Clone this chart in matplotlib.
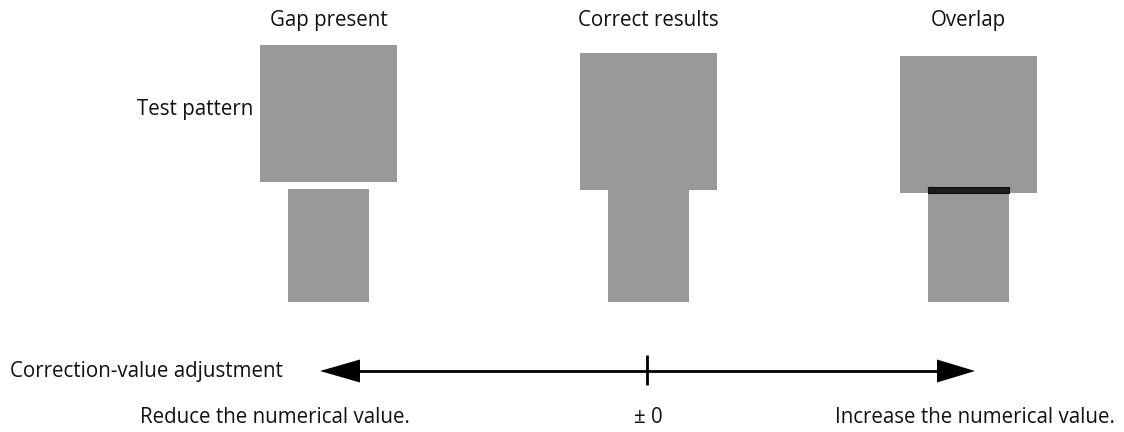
import matplotlib
matplotlib.use("Agg")
import matplotlib.pyplot as plt
from matplotlib.patches import Rectangle, Polygon

plt.rcParams['font.family'] = ['Open Sans', 'DejaVu Sans']

# ---- data (pixel-space layout of the schematic) ----
panel_titles = ["Gap present", "Correct results", "Overlap"]
panel_left = [260, 580, 900]          # left edge of upper block
upper_top = [45, 53, 56]
upper_bottom = [182, 190, 193]
lower_top = [189, 190, 187]
lower_bottom = [302, 302, 302]
upper_width = 137
lower_offset = 28
lower_width = 81

row_label = "Test pattern"
axis_label = "Correction-value adjustment"
axis_ticks = ["Reduce the numerical value.", "\u00b1 0", "Increase the numerical value."]
axis_tick_x = [275, 648, 975]

GRAY = "#999999"
FS = 14.8

fig = plt.figure(figsize=(11.24, 4.32), dpi=100)
ax = fig.add_axes([0, 0, 1, 1])
ax.set_xlim(0, 1124)
ax.set_ylim(432, 0)
ax.axis("off")

for i, title in enumerate(panel_titles):
    x0 = panel_left[i]
    ax.add_patch(Rectangle((x0, upper_top[i]), upper_width,
                           upper_bottom[i] - upper_top[i], color=GRAY, lw=0))
    ax.add_patch(Rectangle((x0 + lower_offset, lower_top[i]), lower_width,
                           lower_bottom[i] - lower_top[i], color=GRAY, lw=0))
    if lower_top[i] < upper_bottom[i]:
        ax.add_patch(Rectangle((x0 + lower_offset, lower_top[i]), lower_width,
                               upper_bottom[i] - lower_top[i],
                               facecolor="#1c1c1c", edgecolor="#111111", lw=0.8))
    ax.text(x0 + upper_width / 2, 26, title, ha="center", va="baseline",
            fontsize=FS, color="#111111")

ax.text(253, 115, row_label, ha="right", va="baseline", fontsize=FS, color="#111111")

# adjustment axis
ay = 371
ax.plot([350, 945], [ay, ay], color="black", lw=2, solid_capstyle="butt")
ax.add_patch(Polygon([[320, ay], [360, ay - 11.5], [360, ay + 11.5]], closed=True,
                     color="black", lw=0))
ax.add_patch(Polygon([[975, ay], [937, ay - 11.5], [937, ay + 11.5]], closed=True,
                     color="black", lw=0))
ax.plot([647, 647], [355, 385], color="black", lw=2, solid_capstyle="butt")

ax.text(10, 377, axis_label, ha="left", va="baseline", fontsize=FS, color="#111111")
for t, x in zip(axis_ticks, axis_tick_x):
    ax.text(x, 423, t, ha="center", va="baseline", fontsize=FS, color="#111111")

fig.savefig("out.png", dpi=100)
